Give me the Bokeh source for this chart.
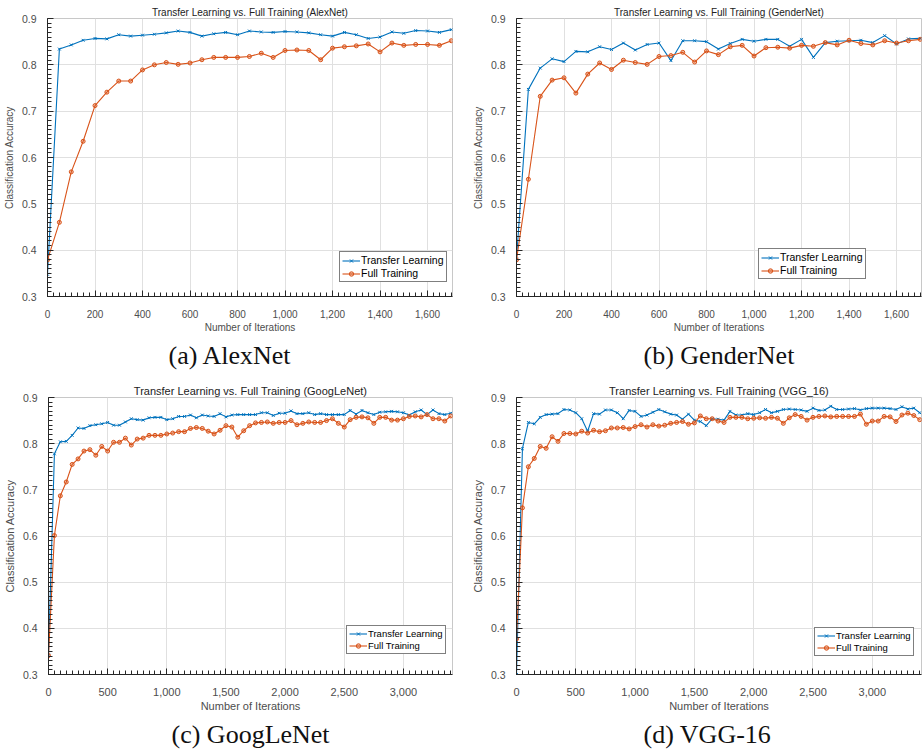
from bokeh.plotting import figure
from bokeh.layouts import column, row
from bokeh.models import Range1d, FixedTicker, NumeralTickFormatter, Title
from bokeh.embed import file_html
from bokeh.resources import INLINE

# ---------------- data ----------------
iters_a = list(range(0, 1701, 50))   # AlexNet / GenderNet iterations
iters_c = list(range(0, 3401, 50))   # GoogLeNet / VGG-16 iterations

alex_transfer = [0.348, 0.834, 0.843, 0.853, 0.857, 0.856, 0.865, 0.862, 0.864, 0.866,
                 0.869, 0.873, 0.870, 0.862, 0.867, 0.870, 0.865, 0.873, 0.871, 0.870,
                 0.872, 0.871, 0.869, 0.865, 0.862, 0.870, 0.865, 0.857, 0.860, 0.871,
                 0.868, 0.874, 0.873, 0.870, 0.876]
alex_full = [0.379, 0.460, 0.569, 0.635, 0.712, 0.741, 0.765, 0.765, 0.789, 0.800,
             0.805, 0.801, 0.804, 0.811, 0.816, 0.816, 0.816, 0.818, 0.825, 0.816,
             0.831, 0.832, 0.831, 0.811, 0.836, 0.839, 0.841, 0.845, 0.828, 0.847,
             0.842, 0.844, 0.844, 0.842, 0.852]

gender_transfer = [0.381, 0.747, 0.793, 0.813, 0.807, 0.829, 0.828, 0.839, 0.833, 0.847,
                   0.832, 0.844, 0.847, 0.809, 0.852, 0.852, 0.850, 0.834, 0.846, 0.855,
                   0.851, 0.855, 0.855, 0.840, 0.855, 0.816, 0.848, 0.851, 0.852, 0.853,
                   0.848, 0.863, 0.845, 0.856, 0.857]
gender_full = [0.379, 0.553, 0.732, 0.767, 0.772, 0.739, 0.780, 0.804, 0.790, 0.810,
               0.805, 0.801, 0.818, 0.820, 0.827, 0.806, 0.830, 0.822, 0.839, 0.842,
               0.819, 0.837, 0.838, 0.836, 0.842, 0.840, 0.848, 0.843, 0.853, 0.846,
               0.843, 0.852, 0.847, 0.852, 0.855]

google_transfer = [0.342, 0.778, 0.804, 0.805, 0.818, 0.834, 0.833, 0.839, 0.841, 0.843,
                   0.846, 0.840, 0.840, 0.847, 0.854, 0.852, 0.851, 0.856, 0.857, 0.857,
                   0.852, 0.854, 0.859, 0.859, 0.862, 0.856, 0.862, 0.860, 0.859, 0.865,
                   0.858, 0.862, 0.863, 0.863, 0.863, 0.863, 0.867, 0.867, 0.861, 0.866,
                   0.866, 0.871, 0.865, 0.865, 0.867, 0.863, 0.865, 0.863, 0.863, 0.863,
                   0.863, 0.872, 0.864, 0.872, 0.867, 0.863, 0.868, 0.869, 0.870, 0.869,
                   0.867, 0.862, 0.869, 0.873, 0.863, 0.873, 0.865, 0.863, 0.866]
google_full = [0.341, 0.601, 0.687, 0.717, 0.755, 0.767, 0.784, 0.787, 0.775, 0.794,
               0.784, 0.803, 0.803, 0.812, 0.797, 0.810, 0.812, 0.818, 0.818, 0.818,
               0.821, 0.823, 0.826, 0.826, 0.833, 0.835, 0.833, 0.827, 0.821, 0.829,
               0.839, 0.836, 0.814, 0.828, 0.839, 0.845, 0.846, 0.847, 0.844, 0.846,
               0.846, 0.850, 0.841, 0.844, 0.847, 0.846, 0.846, 0.850, 0.854, 0.844,
               0.836, 0.852, 0.857, 0.858, 0.856, 0.844, 0.857, 0.857, 0.851, 0.851,
               0.854, 0.859, 0.860, 0.858, 0.863, 0.854, 0.854, 0.849, 0.860]

vgg_transfer = [0.300, 0.789, 0.846, 0.843, 0.857, 0.863, 0.864, 0.865, 0.874, 0.873,
                0.867, 0.854, 0.827, 0.865, 0.864, 0.873, 0.873, 0.867, 0.854, 0.872,
                0.870, 0.859, 0.862, 0.868, 0.874, 0.869, 0.864, 0.862, 0.853, 0.864,
                0.851, 0.848, 0.839, 0.854, 0.853, 0.851, 0.870, 0.862, 0.862, 0.865,
                0.863, 0.867, 0.874, 0.867, 0.870, 0.874, 0.875, 0.874, 0.873, 0.870,
                0.877, 0.872, 0.873, 0.881, 0.874, 0.874, 0.875, 0.876, 0.873, 0.876,
                0.877, 0.877, 0.877, 0.876, 0.874, 0.880, 0.875, 0.877, 0.867]
vgg_full = [0.377, 0.661, 0.750, 0.768, 0.794, 0.790, 0.815, 0.805, 0.822, 0.822,
            0.821, 0.827, 0.823, 0.829, 0.826, 0.828, 0.834, 0.834, 0.835, 0.832,
            0.837, 0.841, 0.836, 0.841, 0.838, 0.840, 0.844, 0.846, 0.848, 0.842,
            0.845, 0.860, 0.854, 0.854, 0.849, 0.846, 0.857, 0.857, 0.857, 0.854,
            0.855, 0.856, 0.855, 0.857, 0.855, 0.844, 0.856, 0.863, 0.859, 0.851,
            0.857, 0.859, 0.860, 0.858, 0.859, 0.859, 0.859, 0.859, 0.864, 0.842,
            0.849, 0.849, 0.859, 0.858, 0.848, 0.862, 0.866, 0.861, 0.852]

y_ticks = [0.3, 0.4, 0.5, 0.6, 0.7, 0.8, 0.9]
x_ticks_a = [0, 200, 400, 600, 800, 1000, 1200, 1400, 1600]
x_ticks_c = [0, 500, 1000, 1500, 2000, 2500, 3000]

BLUE = "#0072BD"
ORANGE = "#D95319"
AX = "#262626"
TXT = "#4d4d4d"
GRID = "#e0e0e0"
SANS = "Liberation Sans"


def panel(name, caption, xs, tl, ft, xmax, xticks, xminor_step, width, height,
          bl, br, bt, bb, fs, leg_xy, leg_fs, cap_offset):
    p = figure(width=width, height=height, output_backend="svg", toolbar_location=None,
               x_range=Range1d(0, xmax), y_range=Range1d(0.3, 0.9),
               min_border_left=bl, min_border_right=br, min_border_top=bt,
               min_border_bottom=bb, background_fill_color="white",
               border_fill_color="white", outline_line_color="#c8c8c8")
    p.title.text = "Transfer Learning vs. Full Training (%s)" % name
    p.title.align = "center"
    p.title.text_font = SANS
    p.title.text_font_style = "normal"
    p.title.text_font_size = fs
    p.title.text_color = "#222222"
    p.title.standoff = 1

    yminor = [round(0.3 + 0.01 * i, 2) for i in range(61)]
    xminor = list(range(0, int(xmax) + 1, xminor_step))
    p.xaxis.ticker = FixedTicker(ticks=xticks, minor_ticks=xminor)
    p.yaxis.ticker = FixedTicker(ticks=y_ticks, minor_ticks=yminor)
    p.xgrid.ticker = FixedTicker(ticks=xticks)
    p.ygrid.ticker = FixedTicker(ticks=y_ticks)
    p.xaxis.formatter = NumeralTickFormatter(format="0,0")
    p.yaxis.formatter = NumeralTickFormatter(format="0.0")
    p.grid.grid_line_color = GRID

    for ax in (p.xaxis[0], p.yaxis[0]):
        ax.axis_line_color = AX
        ax.major_tick_line_color = AX
        ax.minor_tick_line_color = AX
        ax.major_tick_in = 6
        ax.major_tick_out = 0
        ax.minor_tick_in = 4
        ax.minor_tick_out = 0
        ax.major_label_text_font = SANS
        ax.major_label_text_color = TXT
        ax.axis_label_text_font = SANS
        ax.axis_label_text_font_style = "normal"
        ax.axis_label_text_color = TXT
        ax.axis_label_text_font_size = fs
    p.yaxis[0].major_label_text_font_size = "10.5px"
    p.xaxis[0].major_label_text_font_size = fs
    p.xaxis[0].axis_label = "Number of Iterations"
    p.yaxis[0].axis_label = "Classification Accuracy"
    p.xaxis[0].major_label_standoff = 13
    p.yaxis[0].major_label_standoff = 11
    p.xaxis[0].axis_label_standoff = 1
    p.yaxis[0].axis_label_standoff = 4

    p.line(xs, tl, color=BLUE, line_width=1.1, legend_label="Transfer Learning")
    p.scatter(xs, tl, marker="x", size=4, line_color=BLUE, line_width=1,
              legend_label="Transfer Learning")
    p.line(xs, ft, color=ORANGE, line_width=1.1, legend_label="Full Training")
    p.scatter(xs, ft, marker="circle", size=4, line_color=ORANGE,
              fill_color=ORANGE, fill_alpha=0.35, line_width=1,
              legend_label="Full Training")

    lg = p.legend[0]
    lg.location = leg_xy
    lg.label_text_font = SANS
    lg.label_text_font_size = leg_fs
    lg.label_text_color = "#000000"
    lg.border_line_color = "#000000"
    lg.border_line_width = 1
    lg.background_fill_color = "white"
    lg.background_fill_alpha = 1
    lg.glyph_width = 18
    lg.glyph_height = 11
    lg.label_height = 11
    lg.label_standoff = 1
    lg.spacing = 1
    lg.padding = 2
    lg.margin = 0

    cap = Title(text=caption, align="left", offset=cap_offset,
                text_font="Liberation Serif", text_font_size="26px",
                text_font_style="normal", text_color="#111111", standoff=6)
    p.add_layout(cap, "below")
    return p


pa = panel("AlexNet", "(a) AlexNet", iters_a, alex_transfer, alex_full, 1705,
           x_ticks_a, 25, 462, 375, 47, 10, 18, 79, "10px", (292, 14), "10.5px", 121)
pb = panel("GenderNet", "(b) GenderNet", iters_a, gender_transfer, gender_full, 1705,
           x_ticks_a, 25, 462, 375, 54, 3, 18, 79, "10px", (242, 17), "10.5px", 127)
pc = panel("GoogLeNet", "(c) GoogLeNet", iters_c, google_transfer, google_full, 3415,
           x_ticks_c, 50, 462, 377, 47, 10, 22, 78, "11px", (298, 20), "9.5px", 123)
pd = panel("VGG_16", "(d) VGG-16", iters_c, vgg_transfer, vgg_full, 3415,
           x_ticks_c, 50, 462, 377, 54, 3, 22, 78, "11px", (298, 18), "9.5px", 127)

layout = column(row(pa, pb), row(pc, pd))
open("out.html", "w").write(file_html(layout, INLINE))
